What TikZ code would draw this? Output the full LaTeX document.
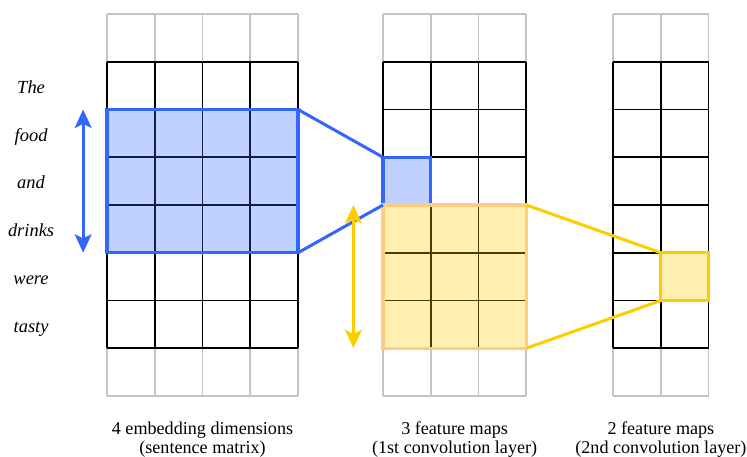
\documentclass[tikz,border=0pt]{standalone}
\usepackage{fontspec}
\setmainfont{Liberation Serif}
\usetikzlibrary{arrows.meta}

\definecolor{cnnblue}{HTML}{3366FF}
\definecolor{cnnyellow}{HTML}{FFCC00}
\definecolor{cnnorange}{HTML}{FFCC80}
\definecolor{padgray}{HTML}{C4C4C4}

\tikzset{
  padgrid/.style={padgray, line width=1pt},
  cellgrid/.style={black, line width=1pt},
  region/.style={draw, line width=1.8pt, inner sep=0pt, outer sep=0pt, fill opacity=0.3},
  link/.style={line width=1.8pt},
  span/.style={line width=1.8pt, {Stealth[length=11pt,width=10pt,inset=2.5pt]}-{Stealth[length=11pt,width=10pt,inset=2.5pt]}},
  word/.style={font=\fontsize{11}{12}\selectfont\itshape, anchor=base},
  caption/.style={font=\fontsize{10.8}{11.3}\selectfont, align=center}
}

\begin{document}
\begin{tikzpicture}

\useasboundingbox (-2.241,0.293) rectangle (13.403,-9.277);

% sentence matrix, padded with one row above and below
\draw [padgrid] (0,0) grid (4,-8);
\draw [cellgrid] (0,-1) grid (4,-7);

% first convolution layer
\begin{scope}[xshift=5.78cm]
\draw [padgrid] (0,0) grid (3,-8);
\draw [cellgrid] (0,-1) grid (3,-7);
\end{scope}

% second convolution layer
\begin{scope}[xshift=10.6cm]
\draw [padgrid] (0,0) grid (2,-8);
\draw [cellgrid] (0,-1) grid (2,-7);
\end{scope}

% words of the sentence
\node [word] (nodeThe)    at (-1.59,-1.66) {The};
\node [word] (nodeFood)   at (-1.59,-2.66) {food};
\node [word] (nodeAnd)    at (-1.59,-3.66) {and};
\node [word] (nodeDrinks) at (-1.59,-4.66) {drinks};
\node [word] (nodeWere)   at (-1.59,-5.66) {were};
\node [word] (nodeTasty)  at (-1.59,-6.66) {tasty};

% filter windows
\node [region, draw=cnnblue, fill=cnnblue, minimum width=4cm, minimum height=3cm] (regionEmb) at (2,-3.5) {};
\node [region, draw=cnnblue, fill=cnnblue, minimum width=1cm, minimum height=1cm] (cellConvA) at (6.28,-3.5) {};
\node [region, draw=cnnorange, fill=cnnyellow, minimum width=3cm, minimum height=3cm] (regionConvA) at (7.28,-5.5) {};
\node [region, draw=cnnyellow, fill=cnnyellow, minimum width=1cm, minimum height=1cm] (cellConvB) at (12.1,-5.5) {};

\draw [link, cnnblue] (regionEmb.north east) -- (cellConvA.north west);
\draw [link, cnnblue] (regionEmb.south east) -- (cellConvA.south west);
\draw [link, cnnyellow] (regionConvA.north east) -- (cellConvB.north west);
\draw [link, cnnyellow] (regionConvA.south east) -- (cellConvB.south west);

% window heights
\coordinate (blueTop) at (-0.5,-2);
\coordinate (blueBottom) at (-0.5,-5);
\coordinate (yellowTop) at (5.16,-4);
\coordinate (yellowBottom) at (5.16,-7);
\draw [span, cnnblue] (blueTop) -- (blueBottom);
\draw [span, cnnyellow] (yellowTop) -- (yellowBottom);

% captions
\node [caption] (capEmb)   at (2,-8.92)    {4 embedding dimensions\\(sentence matrix)};
\node [caption] (capConvA) at (7.28,-8.92) {3 feature maps\\(1st convolution layer)};
\node [caption] (capConvB) at (11.6,-8.92) {2 feature maps\\(2nd convolution layer)};

\end{tikzpicture}
\end{document}
